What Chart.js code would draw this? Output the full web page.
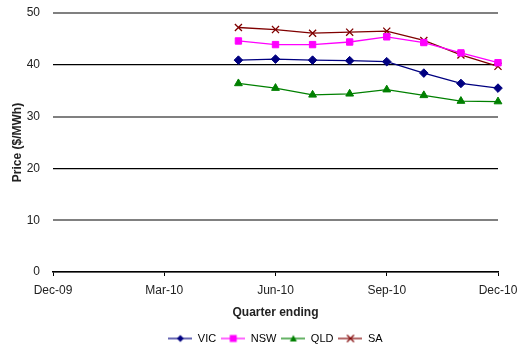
<!DOCTYPE html>
<html>
<head>
<meta charset="utf-8">
<script src="https://cdn.jsdelivr.net/npm/chart.js@4/dist/chart.umd.min.js"></script>
<style>
  html, body { margin: 0; padding: 0; background: #fff; }
  #wrap { width: 519px; height: 345px; }
</style>
</head>
<body>
<div id="wrap"><canvas id="c" width="519" height="345"></canvas></div>
<script>
// Monthly categories; only quarter ends get a label
const months = ['Dec-09','Jan-10','Feb-10','Mar-10','Apr-10','May-10','Jun-10',
                'Jul-10','Aug-10','Sep-10','Oct-10','Nov-10','Dec-10'];
const quarterLabels = ['Dec-09','Mar-10','Jun-10','Sep-10','Dec-10'];

// Prices ($/MWh), null where no value
const vic = [null,null,null,null,null,40.9,41.1,40.9,40.8,40.6,38.4,36.4,35.5];
const nsw = [null,null,null,null,null,44.6,43.9,43.9,44.4,45.4,44.3,42.3,40.4];
const qld = [null,null,null,null,null,36.4,35.5,34.2,34.4,35.2,34.1,33.0,32.9];
const sa  = [null,null,null,null,null,47.2,46.8,46.1,46.3,46.5,44.7,41.9,39.7];

const yTicks = [0, 10, 20, 30, 40, 50];

const FONT = 'Liberation Sans, Arial, sans-serif';
const TEXT = '#222';

// Legend swatch: short line with the series marker in the middle
function swatch(color, style) {
  const cv = document.createElement('canvas');
  cv.width = 24; cv.height = 10;
  const g = cv.getContext('2d');
  g.strokeStyle = color; g.fillStyle = color; g.lineWidth = 1.2;
  g.beginPath(); g.moveTo(0, 5); g.lineTo(24, 5); g.stroke();
  const cx = 12, cy = 5;
  g.beginPath();
  if (style === 'rectRot') {
    g.moveTo(cx, cy - 3.5); g.lineTo(cx + 3.5, cy); g.lineTo(cx, cy + 3.5); g.lineTo(cx - 3.5, cy); g.closePath(); g.fill();
  } else if (style === 'rect') {
    g.fillRect(cx - 3.5, cy - 3.5, 7, 7);
  } else if (style === 'triangle') {
    g.moveTo(cx, cy - 3.5); g.lineTo(cx + 3.5, cy + 3); g.lineTo(cx - 3.5, cy + 3); g.closePath(); g.fill();
  } else {
    g.moveTo(cx - 3.5, cy - 3.5); g.lineTo(cx + 3.5, cy + 3.5);
    g.moveTo(cx + 3.5, cy - 3.5); g.lineTo(cx - 3.5, cy + 3.5); g.stroke();
  }
  return cv;
}

function series(label, data, color, style, radius) {
  return {
    label, data,
    borderColor: color, backgroundColor: color,
    borderWidth: 1.3,
    pointStyle: style, pointRadius: radius, pointHoverRadius: radius,
    pointBorderWidth: style === 'crossRot' ? 1.3 : 1,
    tension: 0, spanGaps: false,
    legendIcon: swatch(color, style)
  };
}

new Chart(document.getElementById('c'), {
  type: 'line',
  data: {
    labels: months,
    datasets: [
      series('VIC', vic, '#000080', 'rectRot', 4.3),
      series('NSW', nsw, '#FF00FF', 'rect', 4.5),
      series('QLD', qld, '#008000', 'triangle', 4.5),
      series('SA',  sa,  '#800000', 'crossRot', 5)
    ]
  },
  options: {
    responsive: false,
    animation: false,
    layout: { padding: { left: 0, right: 21, top: 13, bottom: -9 } },
    plugins: {
      tooltip: { enabled: false },
      legend: {
        position: 'bottom',
        fullSize: false,
        labels: {
          usePointStyle: true,
          pointStyleWidth: 24,
          boxHeight: 10,
          font: { family: FONT, size: 11 },
          color: TEXT,
          padding: 5,
          generateLabels(chart) {
            return chart.data.datasets.map((ds, i) => ({
              text: ds.label,
              pointStyle: ds.legendIcon,
              fillStyle: ds.borderColor,
              strokeStyle: ds.borderColor,
              lineWidth: 0,
              hidden: false,
              datasetIndex: i
            }));
          }
        }
      }
    },
    scales: {
      x: {
        type: 'category',
        offset: false,
        afterFit(scale) {
          scale.height = 56;
          scale.paddingLeft = 0;
          scale.paddingRight = 0;
        },
        border: { display: true, color: '#000', width: 1.5 },
        grid: {
          drawOnChartArea: false,
          drawTicks: true,
          tickLength: 4,
          color: '#000'
        },
        ticks: {
          autoSkip: false,
          maxRotation: 0,
          padding: 7,
          color: TEXT,
          font: { family: FONT, size: 12 },
          callback(v, i) {
            const m = months[i];
            return quarterLabels.includes(m) ? m : null;
          }
        },
        title: {
          display: true,
          text: 'Quarter ending',
          color: TEXT,
          font: { family: FONT, size: 12, weight: 'bold' },
          padding: { top: 6, bottom: 8 }
        }
      },
      y: {
        min: 0, max: 50,
        afterFit(scale) {
          scale.width = 53;
          scale.paddingTop = 0;
          scale.paddingBottom = 0;
        },
        afterBuildTicks(scale) { scale.ticks = yTicks.map(v => ({ value: v })); },
        border: { display: false },
        grid: {
          drawTicks: false,
          tickLength: 0,
          color: ctx => (ctx.tick && ctx.tick.value % 20 === 10 ? '#808080' : '#000'),
          lineWidth: ctx => (ctx.tick && ctx.tick.value % 20 === 10 ? 2 : 1.2)
        },
        ticks: {
          padding: 13,
          color: TEXT,
          font: { family: FONT, size: 12 }
        },
        title: {
          display: true,
          text: 'Price ($/MWh)',
          color: TEXT,
          font: { family: FONT, size: 12, weight: 'bold' },
          padding: { top: 10, bottom: 4 }
        }
      }
    }
  }
});
</script>
</body>
</html>
